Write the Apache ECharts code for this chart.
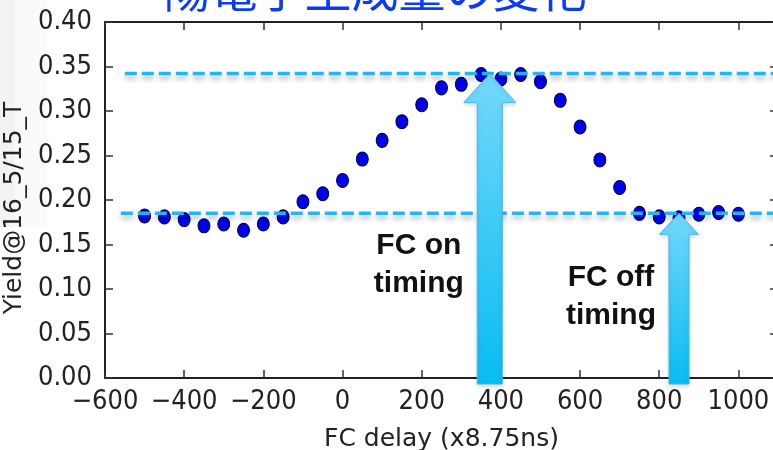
<!DOCTYPE html>
<html>
<head>
<meta charset="utf-8">
<title>陽電子生成量の変化</title>
<script src="https://cdn.jsdelivr.net/npm/echarts@6/dist/echarts.min.js"></script>
<style>
  html, body { margin: 0; padding: 0; background: #ffffff; }
  #chart { width: 773px; height: 450px; }
</style>
</head>
<body>
<div id="chart"></div>
<script>
// FC delay scan: yield vs. delay step
const delaySteps = [-500, -450, -400, -350, -300, -250, -200, -150, -100, -50,
  0, 50, 100, 150, 200, 250, 300, 350, 400, 450,
  500, 550, 600, 650, 700, 750, 800, 850, 900, 950, 1000];
const yieldValues = [0.182, 0.181, 0.178, 0.171, 0.173, 0.166, 0.173, 0.181, 0.198, 0.207,
  0.222, 0.246, 0.267, 0.288, 0.307, 0.326, 0.330, 0.341, 0.336, 0.341,
  0.333, 0.312, 0.282, 0.245, 0.214, 0.185, 0.181, 0.180, 0.184, 0.186, 0.184];

// reference levels: [start delay, level]
const onLevel = [-550, 0.342];
const offLevel = [-560, 0.185];

// arrows marking the on / off timing
const arrowDelay = [372, 850];
const arrowTip = [0.342, 0.185];
const arrowText = ['FC on\ntiming', 'FC off\ntiming'];
const arrowTextTop = [0.170, 0.134];

const xRange = [-600, 1100];
const yRange = [0, 0.4];

// arrow geometry in pixels: head half-width, head length, shaft half-width, text offset
const arrowShape = [
  { head: 26, headLen: 29, shaft: 12.5, textDx: -71 },
  { head: 19.5, headLen: 21, shaft: 10, textDx: -68 }
];

const tickFont = '"DejaVu Sans Condensed", "DejaVu Sans", sans-serif';
const axisColor = '#222222';

const chart = echarts.init(document.getElementById('chart'), null, { renderer: 'canvas' });

function fmtX(v) { return v < 0 ? '\u2212' + Math.abs(v) : String(v); }
function fmtY(v) { return v.toFixed(2); }

function frameAxis(extra) {
  return Object.assign({
    type: 'value',
    axisLine: { show: true, onZero: false, lineStyle: { color: axisColor, width: 2 } },
    axisTick: { show: true, inside: true, length: 8, lineStyle: { color: '#333', width: 1.5 } },
    splitLine: { show: false }
  }, extra);
}

const option = {
  animation: false,
  backgroundColor: '#ffffff',
  grid: { left: 105, top: 22, width: 673, height: 356, containLabel: false, outerBoundsMode: 'none' },
  graphic: [
    { type: 'rect', z: -10, shape: { x: 0, y: 0, width: 47, height: 227 }, style: { fill: '#fafafa' } },
    { type: 'rect', z: -10, shape: { x: 0, y: 0, width: 15, height: 227 }, style: { fill: '#f3f3f3' } },
    {
      type: 'text', x: 375, y: -11, z: 10,
      style: {
        text: '陽電子生成量の変化',
        fill: '#0b3bf5',
        font: '47px "Noto Sans CJK JP", sans-serif',
        align: 'center', verticalAlign: 'middle'
      }
    }
  ],
  xAxis: [
    frameAxis({
      min: xRange[0], max: xRange[1], interval: 200, position: 'bottom',
      name: 'FC delay (x8.75ns)', nameLocation: 'middle', nameGap: 49,
      nameTextStyle: { fontFamily: 'DejaVu Sans', fontSize: 25, color: axisColor },
      axisLabel: { formatter: fmtX, showMaxLabel: false, margin: 10, fontFamily: tickFont, fontSize: 27, color: axisColor }
    }),
    frameAxis({
      min: xRange[0], max: xRange[1], interval: 200, position: 'top',
      axisLabel: { show: false }
    })
  ],
  yAxis: [
    frameAxis({
      min: yRange[0], max: yRange[1], interval: 0.05, position: 'left',
      name: 'Yield@16_5/15_T', nameLocation: 'middle', nameGap: 72,
      nameTextStyle: { fontFamily: 'DejaVu Sans', fontSize: 25, color: axisColor, padding: [0, 16, 0, 0] },
      axisLabel: { formatter: fmtY, margin: 13, fontFamily: tickFont, fontSize: 27, color: axisColor }
    }),
    frameAxis({
      min: yRange[0], max: yRange[1], interval: 0.05, position: 'right',
      axisLabel: { show: false }
    })
  ],
  series: [
    {
      type: 'scatter',
      z: 2,
      symbol: 'circle',
      symbolSize: [12, 14],
      itemStyle: { color: '#0000ee', borderColor: '#000033', borderWidth: 1, opacity: 1 },
      data: delaySteps.map((d, i) => [d, yieldValues[i]])
    },
    ...[onLevel, offLevel].map(level => ({
      type: 'line',
      z: 3,
      symbol: 'none',
      silent: true,
      lineStyle: {
        color: '#22b6f6', width: 3.5, type: [12, 5],
        shadowColor: 'rgba(0,0,0,0.28)', shadowBlur: 5, shadowOffsetY: 4
      },
      data: [[level[0], level[1]], [xRange[1], level[1]]]
    })),
    {
      type: 'custom',
      z: 5,
      clip: false,
      silent: true,
      data: arrowDelay.map((d, i) => [d, arrowTip[i], arrowTextTop[i]]),
      renderItem: function (params, api) {
        const s = arrowShape[params.dataIndex];
        const tip = api.coord([api.value(0), api.value(1)]);
        const base = api.coord([api.value(0), yRange[0]]);
        const textTop = api.coord([api.value(0), api.value(2)]);
        const bottom = base[1] + 6;
        const hy = tip[1] + s.headLen;
        const pts = [
          [tip[0], tip[1]],
          [tip[0] + s.head, hy],
          [tip[0] + s.shaft, hy],
          [tip[0] + s.shaft, bottom],
          [tip[0] - s.shaft, bottom],
          [tip[0] - s.shaft, hy],
          [tip[0] - s.head, hy]
        ];
        return {
          type: 'group',
          children: [
            {
              type: 'polygon',
              shape: { points: pts },
              style: {
                fill: new echarts.graphic.LinearGradient(0, 0, 0, 1, [
                  { offset: 0, color: '#74d8fb' },
                  { offset: 1, color: '#08bcf2' }
                ]),
                stroke: '#45b8ee',
                lineWidth: 1,
                shadowColor: 'rgba(0,0,0,0.15)',
                shadowBlur: 4,
                shadowOffsetY: 2
              }
            },
            {
              type: 'text',
              x: tip[0] + s.textDx,
              y: textTop[1],
              style: {
                text: arrowText[params.dataIndex],
                fill: '#111111',
                font: 'bold 30px "Liberation Sans", Arial, sans-serif',
                lineHeight: 38,
                align: 'center',
                verticalAlign: 'top'
              }
            }
          ]
        };
      }
    }
  ]
};

chart.setOption(option);
</script>
</body>
</html>
